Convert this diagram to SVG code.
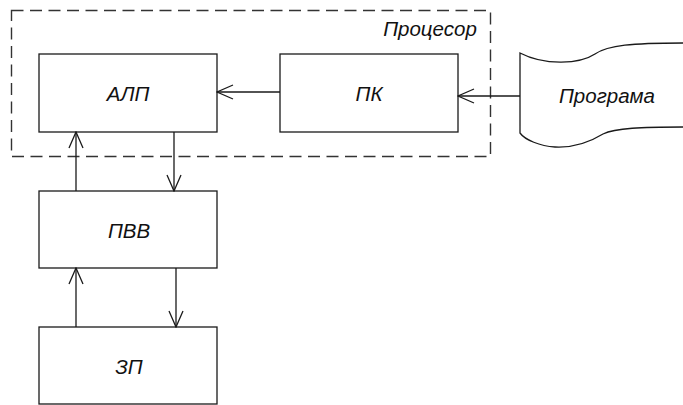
<svg xmlns="http://www.w3.org/2000/svg" width="683" height="405" viewBox="0 0 683 405">
  <style>
    .box { fill: #fff; stroke: #1a1a1a; stroke-width: 1.3; }
    .lbl { font-family: "Liberation Sans", Arial, sans-serif; font-style: italic; font-size: 20.5px; fill: #111; text-anchor: middle; }
    .conn { fill: none; stroke: #1a1a1a; stroke-width: 1.3; }
  </style>
  <defs>
    <marker id="arr" viewBox="0 0 18 16" refX="17" refY="8" markerWidth="18" markerHeight="16" markerUnits="userSpaceOnUse" orient="auto">
      <path d="M1,1 L17,8 L1,15" fill="none" stroke="#1a1a1a" stroke-width="1.3"/>
    </marker>
  </defs>
  <rect width="683" height="405" fill="#fff"/>

  <g id="processor">
    <rect x="11.5" y="10.5" width="479" height="146" fill="none" stroke="#333" stroke-width="1.4" stroke-dasharray="12,6.5"/>
    <text class="lbl" x="430" y="36">Процесор</text>
  </g>

  <g id="alu">
    <rect class="box" x="39" y="54" width="178" height="78"/>
    <text class="lbl" x="128" y="101">АЛП</text>
  </g>

  <g id="pk">
    <rect class="box" x="280" y="54" width="178" height="78"/>
    <text class="lbl" x="369" y="101">ПК</text>
  </g>

  <g id="program">
    <path class="box" d="M520,53 C545,66 580,64 595,54 C608,45 630,43 690,43 L690,127 C640,127 615,128 603,134 C590,142 575,148 555,147 C540,146 525,140 520,133 Z"/>
    <text class="lbl" x="607" y="103">Програма</text>
  </g>

  <g id="pvv">
    <rect class="box" x="39" y="191" width="178" height="77"/>
    <text class="lbl" x="129" y="238">ПВВ</text>
  </g>

  <g id="zp">
    <rect class="box" x="39" y="327" width="178" height="77"/>
    <text class="lbl" x="129" y="374">ЗП</text>
  </g>

  <g id="connectors">
    <line class="conn" x1="280" y1="92" x2="217" y2="92" marker-end="url(#arr)"/>
    <line class="conn" x1="520" y1="96" x2="458" y2="96" marker-end="url(#arr)"/>
    <line class="conn" x1="76" y1="191" x2="76" y2="132" marker-end="url(#arr)"/>
    <line class="conn" x1="174" y1="132" x2="174" y2="191" marker-end="url(#arr)"/>
    <line class="conn" x1="76" y1="327" x2="76" y2="268" marker-end="url(#arr)"/>
    <line class="conn" x1="176" y1="268" x2="176" y2="327" marker-end="url(#arr)"/>
  </g>
</svg>
